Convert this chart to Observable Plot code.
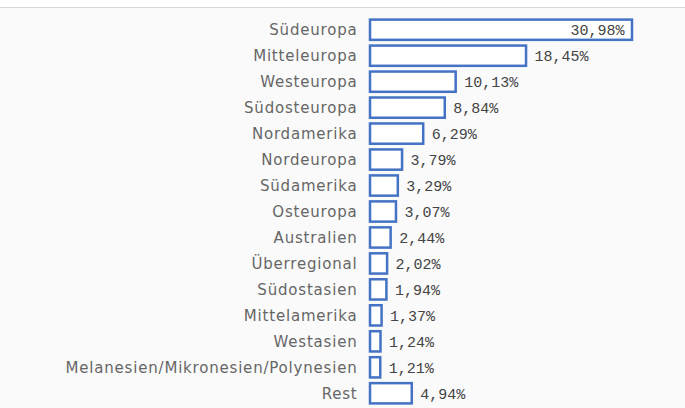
<!DOCTYPE html>
<html>
<head>
<meta charset="utf-8">
<script src="https://cdn.jsdelivr.net/npm/d3@7"></script>
<script src="https://cdn.jsdelivr.net/npm/@observablehq/plot@0.6"></script>
<style>
  html, body { margin: 0; padding: 0; background: #ffffff; }
  #top { height: 7px; background: #ffffff; border-bottom: 1px solid #d9d9d9; }
  #chart { background: #fafafa; width: 685px; height: 400px; }
  #chart svg { display: block; }
  #chart g[aria-label="y-axis tick label"] text { letter-spacing: 0.8px; }
</style>
</head>
<body>
<div id="top"></div>
<div id="chart"></div>
<script>
const regions = [
  "Südeuropa", "Mitteleuropa", "Westeuropa", "Südosteuropa", "Nordamerika",
  "Nordeuropa", "Südamerika", "Osteuropa", "Australien", "Überregional",
  "Südostasien", "Mittelamerika", "Westasien", "Melanesien/Mikronesien/Polynesien", "Rest"
];
const shares = [30.98, 18.45, 10.13, 8.84, 6.29, 3.79, 3.29, 3.07, 2.44, 2.02, 1.94, 1.37, 1.24, 1.21, 4.94];
const gridTicks = [0, 5, 10, 15, 20, 25, 30, 35];

const data = regions.map((r, i) => ({region: r, value: shares[i]}));
const fmt = v => v.toFixed(2).replace(".", ",") + "%";
const inside = data.filter(d => d.value > 25);
const outside = data.filter(d => d.value <= 25);

const blue = "#4472c4";
const mono = "Liberation Mono, DejaVu Sans Mono, monospace";

const chart = Plot.plot({
  width: 685,
  height: 400,
  marginLeft: 370,
  marginRight: 19,
  marginTop: 9,
  marginBottom: 2,
  style: {background: "#fafafa", overflow: "visible"},
  x: {domain: [0, 35], axis: null},
  y: {domain: regions, paddingInner: 0.22, paddingOuter: 0.1, round: false, axis: null},
  marks: [
    Plot.ruleX(gridTicks, {stroke: "#ffffff", strokeWidth: 1.5, y1: 0, y2: 1000}),
    Plot.barX(data, {x: "value", y: "region", fill: "#ffffff", stroke: blue, strokeWidth: 2.5}),
    Plot.axisY({tickSize: 0, tickPadding: 13, fontSize: 15, fill: "#666", fontFamily: "DejaVu Sans, sans-serif", label: null}),
    Plot.text(outside, {x: "value", y: "region", text: d => fmt(d.value), textAnchor: "start", dx: 8,
      fontFamily: mono, fontSize: 15, fill: "#444"}),
    Plot.text(inside, {x: "value", y: "region", text: d => fmt(d.value), textAnchor: "end", dx: -8,
      fontFamily: mono, fontSize: 15, fill: "#444"})
  ]
});
document.getElementById("chart").appendChild(chart);
</script>
</body>
</html>
